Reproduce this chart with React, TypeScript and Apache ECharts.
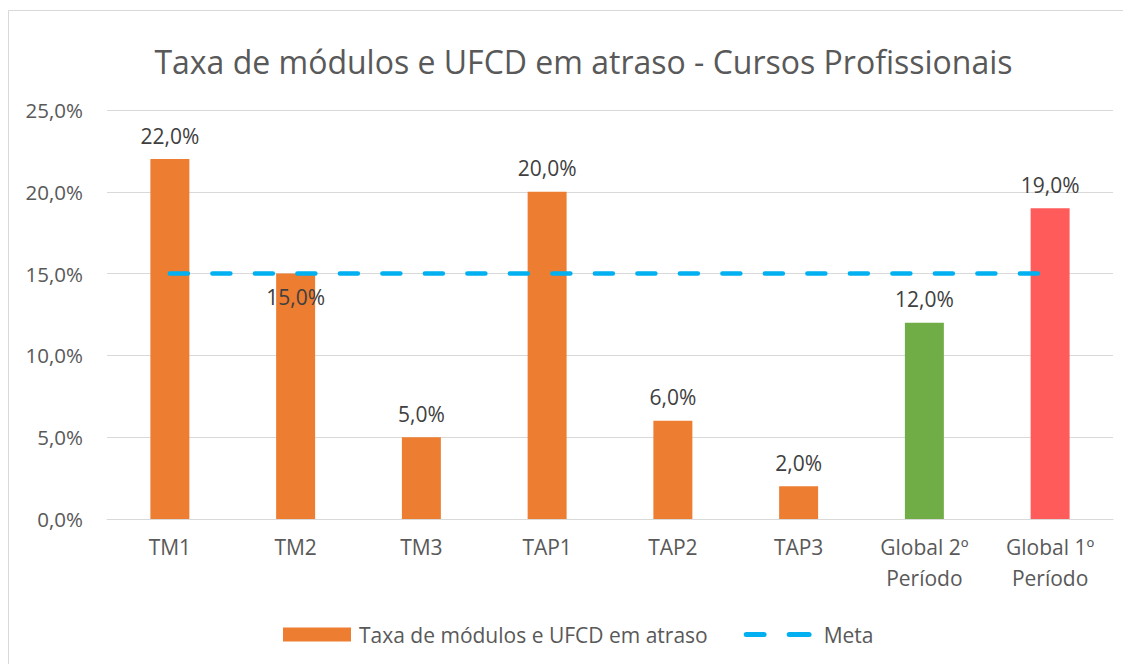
import React, { useEffect, useRef } from "react";
import * as echarts from "echarts";

const categories = ["TM1", "TM2", "TM3", "TAP1", "TAP2", "TAP3", "Global 2º Período", "Global 1º Período"];
const rates = [22.0, 15.0, 5.0, 20.0, 6.0, 2.0, 12.0, 19.0];
const meta = [15, 15, 15, 15, 15, 15, 15, 15];
const barColors = ["#ED7D31", "#ED7D31", "#ED7D31", "#ED7D31", "#ED7D31", "#ED7D31", "#70AD47", "#FF5B5B"];
const seriesNames = ["Taxa de módulos e UFCD em atraso", "Meta"];
const titleText = "Taxa de módulos e UFCD em atraso - Cursos Profissionais";

const FONT = "'Open Sans', 'Noto Sans', sans-serif";
const fmt = (v: number) => v.toFixed(1).replace(".", ",") + "%";
const metaIcon =
  "path://M2.5,0H20.5A2.5,2.5,0,0,1,20.5,5H2.5A2.5,2.5,0,0,1,2.5,0Z M45.5,0H65.5A2.5,2.5,0,0,1,65.5,5H45.5A2.5,2.5,0,0,1,45.5,0Z";

export default function App() {
  const ref = useRef<HTMLDivElement>(null);
  useEffect(() => {
    if (!ref.current) return;
    const chart = echarts.init(ref.current, null, { renderer: "svg" });
    chart.setOption({
      animation: false,
      textStyle: { fontFamily: FONT },
      title: {
        text: titleText,
        left: 570.5,
        textAlign: "center",
        top: 32,
        textStyle: { fontFamily: FONT, fontSize: 32, fontWeight: "normal", color: "#595959" },
      },
      graphic: [
        {
          type: "rect",
          shape: { x: 0.5, y: 2.5, width: 1300, height: 800 },
          style: { fill: "none", stroke: "#D9D9D9", lineWidth: 1 },
          silent: true,
        },
      ],
      legend: {
        left: 270,
        top: 611,
        itemWidth: 68,
        itemHeight: 14,
        itemGap: 36,
        textStyle: { fontFamily: FONT, fontSize: 21, color: "#595959", padding: [0, 0, 0, 3] },
        data: [
          { name: seriesNames[0], icon: "rect" },
          { name: seriesNames[1], icon: metaIcon, textStyle: { padding: [0, 0, 0, 7] } },
        ],
      },
      grid: { left: 99, right: 18, top: 102, bottom: 145, containLabel: false },
      xAxis: {
        type: "category",
        data: categories,
        axisTick: { show: false },
        axisLine: { lineStyle: { color: "#D9D9D9", width: 1 } },
        axisLabel: {
          color: "#595959",
          fontSize: 21,
          fontFamily: FONT,
          lineHeight: 31,
          margin: 12,
          interval: 0,
          formatter: (v: string) => v.replace("º ", "º\n"),
        },
      },
      yAxis: {
        type: "value",
        min: 0,
        max: 25,
        interval: 5,
        axisLine: { show: false },
        axisTick: { show: false },
        splitLine: { lineStyle: { color: "#D9D9D9", width: 1 } },
        axisLabel: {
          color: "#595959",
          fontSize: 20.5,
          fontFamily: FONT,
          margin: 24,
          formatter: (v: number) => fmt(v),
        },
      },
      series: [
        {
          name: seriesNames[0],
          type: "bar",
          barWidth: "31%",
          itemStyle: { color: "#ED7D31" },
          label: {
            show: true,
            position: "top",
            distance: 13,
            color: "#404040",
            fontSize: 21,
            fontFamily: FONT,
            formatter: (p: any) => fmt(p.value),
          },
          data: rates.map((v, i) => ({
            value: v,
            itemStyle: { color: barColors[i] },
            label: i === 1 ? { offset: [0, 47] } : undefined,
          })),
          z: 2,
        },
        {
          name: seriesNames[1],
          type: "line",
          data: meta,
          symbol: "none",
          showSymbol: false,
          lineStyle: { color: "#00B0F0", width: 4.5, type: [18, 24.5], cap: "round" },
          itemStyle: { color: "#00B0F0" },
          z: 3,
        },
      ],
    });
    return () => chart.dispose();
  }, []);
  return <div ref={ref} style={{ width: 1123, height: 656 }} />;
}
